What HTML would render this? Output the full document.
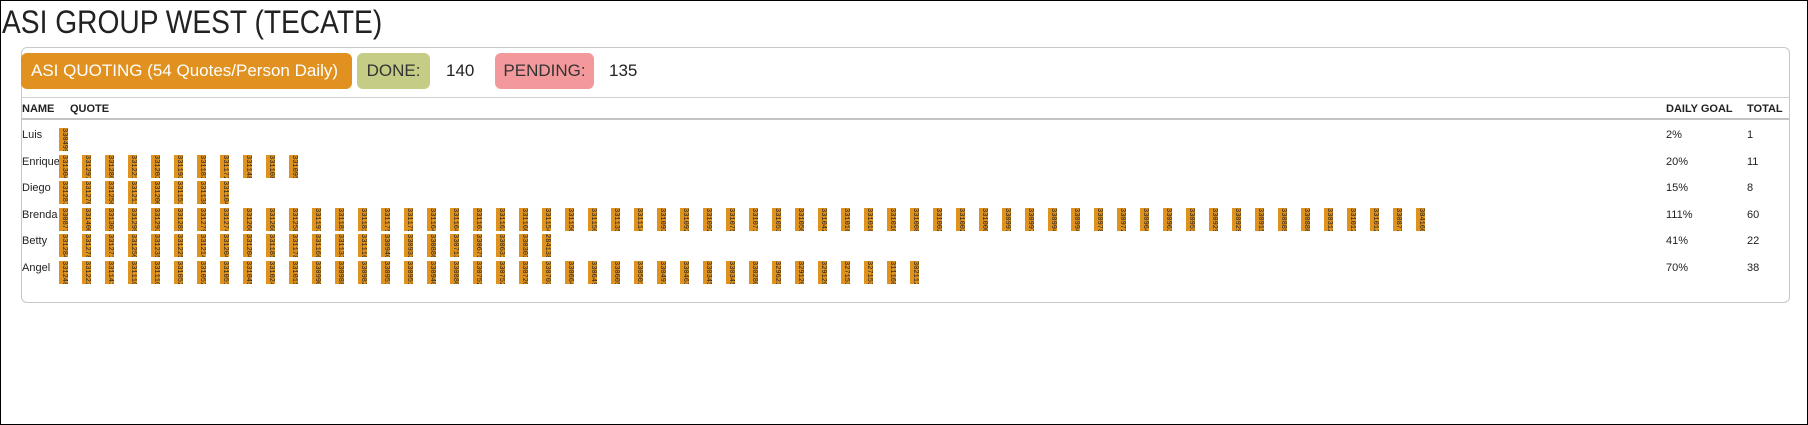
<!DOCTYPE html>
<html><head><meta charset="utf-8"><style>
html,body{margin:0;padding:0;}
body{width:1808px;height:425px;position:relative;overflow:hidden;background:#fff;font-family:"Liberation Sans",sans-serif;color:#222;}
#frame{position:absolute;left:0;top:0;width:1806px;height:423px;border:1px solid #000;}
#title{position:absolute;left:2px;top:4px;font-size:32px;white-space:nowrap;transform-origin:left top;transform:scaleX(0.88);color:#222;}
#card{position:absolute;left:21px;top:47px;width:1767px;height:254px;border:1px solid #c8c8c8;border-radius:6px;}
.badge{position:absolute;top:53px;height:36px;line-height:36px;border-radius:6px;font-size:17px;white-space:nowrap;}
#b1{left:21px;width:331px;background:#E0911F;color:#fff;padding-left:10px;box-sizing:border-box;}
#b2{left:357px;width:73px;background:#C5CC85;color:#333;text-align:center;}
#b3{left:495px;width:99px;background:#F4999B;color:#333;text-align:center;}
.num{position:absolute;top:53px;line-height:36px;font-size:17px;color:#222;}
.hline{position:absolute;left:21px;width:1768px;}
.hd{position:absolute;top:103px;font-size:11px;font-weight:bold;color:#222;}
.nm{position:absolute;font-size:11px;color:#222;}
.q{position:absolute;width:9px;height:23px;background:#E0921F;overflow:hidden;font-size:7px;line-height:9px;color:#222;writing-mode:vertical-rl;text-align:center;font-family:"Liberation Mono",monospace;}
</style></head><body>
<div id="frame"></div>
<div id="title">ASI GROUP WEST (TECATE)</div>
<div id="card"></div>
<div class="badge" id="b1">ASI QUOTING (54 Quotes/Person Daily)</div>
<div class="badge" id="b2">DONE:</div>
<div class="num" style="left:446px">140</div>
<div class="badge" id="b3">PENDING:</div>
<div class="num" style="left:609px">135</div>
<div class="hline" style="top:97px;border-top:1px solid #d0d0d0"></div>
<div class="hline" style="top:118px;border-top:2px solid #c4c4c4"></div>
<div class="hd" style="left:22px">NAME</div>
<div class="hd" style="left:70px">QUOTE</div>
<div class="hd" style="left:1666px">DAILY GOAL</div>
<div class="hd" style="left:1747px">TOTAL</div>
<div id="rows"></div>
<script>
const names=["Luis","Enrique","Diego","Brenda","Betty","Angel"];
const goals=["2%","20%","15%","111%","41%","70%"];
const totals=[1,11,8,60,22,38];
const qLuis=[330499];
const qEnrique=[331304,331297,331280,331221,331203,331193,331183,331172,331148,331108,331095];
const qDiego=[331287,331270,331256,331211,331200,331151,331138,331104];
const qBrenda=[330877,331400,331307,331299,331293,331289,331279,331274,331260,331260,331258,331197,331181,331181,331175,331175,331164,331164,331161,331161,331160,331154,331150,331150,331135,331114,331093,331092,331092,331075,331071,331053,331050,331042,331016,331016,331010,331008,331002,331002,331000,330997,330997,330994,330994,330978,330972,330964,330961,330951,330929,330929,330915,330889,330886,330312,331012,331012,330877,304160];
const qBetty=[331284,331278,331271,331250,331235,331225,331214,331204,331204,331185,331178,331166,331133,331116,330940,330933,330886,330713,330675,330631,330303,284138];
const qAngel=[331248,331223,331141,331110,331110,331052,331052,331051,331045,331024,331015,330990,330988,330982,330951,330951,330940,330880,330752,330752,330720,330703,330664,330649,330605,330501,330497,330463,330345,330345,330280,329623,329120,329120,327153,327153,311166,302112];
const quotes=[qLuis,qEnrique,qDiego,qBrenda,qBetty,qAngel];
const rowY=i=>128+i*26.6;
const boxX=j=>59+j*23;
const root=document.getElementById('rows');
names.forEach((n,i)=>{
  const y=rowY(i);
  const t=document.createElement('div');t.className='nm';t.style.left='22px';t.style.top=(y+1)+'px';t.textContent=n;
  
  
  root.appendChild(t);
  quotes[i].forEach((q,j)=>{
    const b=document.createElement('div');b.className='q';b.style.left=boxX(j)+'px';b.style.top=y+'px';b.textContent=q;
    
    
    root.appendChild(b);
  });
  const g=document.createElement('div');g.className='nm';g.style.left='1666px';g.style.top=(y+1)+'px';g.textContent=goals[i];
  
  
  root.appendChild(g);
  const tt=document.createElement('div');tt.className='nm';tt.style.left='1747px';tt.style.top=(y+1)+'px';tt.textContent=totals[i];
  
  
  root.appendChild(tt);
});
</script>
</body></html>
